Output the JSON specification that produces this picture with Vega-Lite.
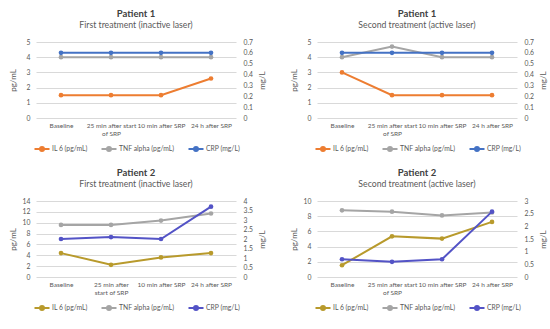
{
  "$schema": "https://vega.github.io/schema/vega-lite/v6.json",
  "background": "white",
  "padding": {"left": 9, "top": 8, "right": 4, "bottom": 4},
  "config": {
    "font": "Lato",
    "view": {"stroke": null},
    "axis": {"labelColor": "#595959", "titleColor": "#595959", "labelFontSize": 6.8, "titleFontSize": 8, "titleFontWeight": "normal", "ticks": false, "domain": false},
    "axisX": {"labelFontSize": 6.5},
    "title": {"color": "#404040", "fontSize": 9.5, "fontWeight": "bold", "subtitleFontSize": 8.7, "subtitleColor": "#595959", "subtitlePadding": 3, "offset": 9, "anchor": "middle"},
    "legend": {"orient": "bottom", "direction": "horizontal", "title": null, "labelFontSize": 6.8, "labelColor": "#595959", "columnPadding": 9, "symbolType": "M-1.5,0H1.5M-0.4,0A0.4,0.4 0 1,1 0.4,0A0.4,0.4 0 1,1 -0.4,0", "symbolSize": 100, "symbolStrokeWidth": 2, "offset": 6}
  },
  "data": {"values": [
    {"pt": "P1", "tr": "first", "time": "Baseline", "s": "IL 6 (pg/mL)", "v": 1.5},
    {"pt": "P1", "tr": "first", "time": "25 min after start of SRP", "s": "IL 6 (pg/mL)", "v": 1.5},
    {"pt": "P1", "tr": "first", "time": "10 min after SRP", "s": "IL 6 (pg/mL)", "v": 1.5},
    {"pt": "P1", "tr": "first", "time": "24 h after SRP", "s": "IL 6 (pg/mL)", "v": 2.6},
    {"pt": "P1", "tr": "first", "time": "Baseline", "s": "TNF alpha (pg/mL)", "v": 4},
    {"pt": "P1", "tr": "first", "time": "25 min after start of SRP", "s": "TNF alpha (pg/mL)", "v": 4},
    {"pt": "P1", "tr": "first", "time": "10 min after SRP", "s": "TNF alpha (pg/mL)", "v": 4},
    {"pt": "P1", "tr": "first", "time": "24 h after SRP", "s": "TNF alpha (pg/mL)", "v": 4},
    {"pt": "P1", "tr": "first", "time": "Baseline", "s": "CRP (mg/L)", "v": 0.6},
    {"pt": "P1", "tr": "first", "time": "25 min after start of SRP", "s": "CRP (mg/L)", "v": 0.6},
    {"pt": "P1", "tr": "first", "time": "10 min after SRP", "s": "CRP (mg/L)", "v": 0.6},
    {"pt": "P1", "tr": "first", "time": "24 h after SRP", "s": "CRP (mg/L)", "v": 0.6},
    {"pt": "P1", "tr": "second", "time": "Baseline", "s": "IL 6 (pg/mL)", "v": 3.0},
    {"pt": "P1", "tr": "second", "time": "25 min after start of SRP", "s": "IL 6 (pg/mL)", "v": 1.5},
    {"pt": "P1", "tr": "second", "time": "10 min after SRP", "s": "IL 6 (pg/mL)", "v": 1.5},
    {"pt": "P1", "tr": "second", "time": "24 h after SRP", "s": "IL 6 (pg/mL)", "v": 1.5},
    {"pt": "P1", "tr": "second", "time": "Baseline", "s": "TNF alpha (pg/mL)", "v": 4},
    {"pt": "P1", "tr": "second", "time": "25 min after start of SRP", "s": "TNF alpha (pg/mL)", "v": 4.7},
    {"pt": "P1", "tr": "second", "time": "10 min after SRP", "s": "TNF alpha (pg/mL)", "v": 4},
    {"pt": "P1", "tr": "second", "time": "24 h after SRP", "s": "TNF alpha (pg/mL)", "v": 4},
    {"pt": "P1", "tr": "second", "time": "Baseline", "s": "CRP (mg/L)", "v": 0.6},
    {"pt": "P1", "tr": "second", "time": "25 min after start of SRP", "s": "CRP (mg/L)", "v": 0.6},
    {"pt": "P1", "tr": "second", "time": "10 min after SRP", "s": "CRP (mg/L)", "v": 0.6},
    {"pt": "P1", "tr": "second", "time": "24 h after SRP", "s": "CRP (mg/L)", "v": 0.6},
    {"pt": "P2", "tr": "first", "time": "Baseline", "s": "IL 6 (pg/mL)", "v": 4.4},
    {"pt": "P2", "tr": "first", "time": "25 min after start of SRP", "s": "IL 6 (pg/mL)", "v": 2.25},
    {"pt": "P2", "tr": "first", "time": "10 min after SRP", "s": "IL 6 (pg/mL)", "v": 3.6},
    {"pt": "P2", "tr": "first", "time": "24 h after SRP", "s": "IL 6 (pg/mL)", "v": 4.4},
    {"pt": "P2", "tr": "first", "time": "Baseline", "s": "TNF alpha (pg/mL)", "v": 9.6},
    {"pt": "P2", "tr": "first", "time": "25 min after start of SRP", "s": "TNF alpha (pg/mL)", "v": 9.6},
    {"pt": "P2", "tr": "first", "time": "10 min after SRP", "s": "TNF alpha (pg/mL)", "v": 10.4},
    {"pt": "P2", "tr": "first", "time": "24 h after SRP", "s": "TNF alpha (pg/mL)", "v": 11.7},
    {"pt": "P2", "tr": "first", "time": "Baseline", "s": "CRP (mg/L)", "v": 2.0},
    {"pt": "P2", "tr": "first", "time": "25 min after start of SRP", "s": "CRP (mg/L)", "v": 2.1},
    {"pt": "P2", "tr": "first", "time": "10 min after SRP", "s": "CRP (mg/L)", "v": 2.0},
    {"pt": "P2", "tr": "first", "time": "24 h after SRP", "s": "CRP (mg/L)", "v": 3.7},
    {"pt": "P2", "tr": "second", "time": "Baseline", "s": "IL 6 (pg/mL)", "v": 1.55},
    {"pt": "P2", "tr": "second", "time": "25 min after start of SRP", "s": "IL 6 (pg/mL)", "v": 5.35},
    {"pt": "P2", "tr": "second", "time": "10 min after SRP", "s": "IL 6 (pg/mL)", "v": 5.05},
    {"pt": "P2", "tr": "second", "time": "24 h after SRP", "s": "IL 6 (pg/mL)", "v": 7.25},
    {"pt": "P2", "tr": "second", "time": "Baseline", "s": "TNF alpha (pg/mL)", "v": 8.77},
    {"pt": "P2", "tr": "second", "time": "25 min after start of SRP", "s": "TNF alpha (pg/mL)", "v": 8.6},
    {"pt": "P2", "tr": "second", "time": "10 min after SRP", "s": "TNF alpha (pg/mL)", "v": 8.1},
    {"pt": "P2", "tr": "second", "time": "24 h after SRP", "s": "TNF alpha (pg/mL)", "v": 8.5},
    {"pt": "P2", "tr": "second", "time": "Baseline", "s": "CRP (mg/L)", "v": 0.7},
    {"pt": "P2", "tr": "second", "time": "25 min after start of SRP", "s": "CRP (mg/L)", "v": 0.6},
    {"pt": "P2", "tr": "second", "time": "10 min after SRP", "s": "CRP (mg/L)", "v": 0.7},
    {"pt": "P2", "tr": "second", "time": "24 h after SRP", "s": "CRP (mg/L)", "v": 2.58}
  ]},
  "columns": 2,
  "align": "all",
  "spacing": {"column": 24, "row": 12},
  "resolve": {"scale": {"color": "independent", "x": "independent", "y": "independent"}, "legend": {"color": "independent"}},
  "concat": [
    {
      "title": {"text": "Patient 1", "subtitle": "First treatment (inactive laser)"},
      "width": 200, "height": 76,
      "transform": [{"filter": "datum.pt == 'P1' && datum.tr == 'first'"}],
      "encoding": {
        "x": {"field": "time", "type": "nominal", "sort": null, "scale": {"type": "point", "padding": 0.5}, "title": null,
          "axis": {"labelAngle": 0, "labelPadding": 4, "labelExpr": "datum.label == '25 min after start of SRP' ? ['25 min after start', 'of SRP'] : datum.label"}},
        "color": {"field": "s", "type": "nominal", "scale": {"domain": ["IL 6 (pg/mL)", "TNF alpha (pg/mL)", "CRP (mg/L)"], "range": ["#ED7D31", "#A5A5A5", "#4472C4"]}}
      },
      "layer": [
        {"transform": [{"filter": "datum.s != 'CRP (mg/L)'"}],
          "encoding": {"y": {"field": "v", "type": "quantitative", "scale": {"domain": [0, 5]}, "title": "pg/mL", "axis": {"tickCount": 5, "gridColor": "#D9D9D9", "labelPadding": 6, "titlePadding": 5, "minExtent": 14, "maxExtent": 14}}},
          "layer": [{"mark": {"type": "line", "strokeWidth": 2}}, {"mark": {"type": "point", "filled": true, "size": 22, "opacity": 1}}]},
        {"transform": [{"filter": "datum.s == 'CRP (mg/L)'"}],
          "encoding": {"y": {"field": "v", "type": "quantitative", "scale": {"domain": [0, 0.7]}, "title": "mg/L", "axis": {"orient": "right", "grid": false, "tickCount": 7, "format": ".1~f", "titleAngle": 270, "labelPadding": 7, "titlePadding": 10, "minExtent": 20, "maxExtent": 20}}},
          "layer": [{"mark": {"type": "line", "strokeWidth": 2}}, {"mark": {"type": "point", "filled": true, "size": 22, "opacity": 1}}]}
      ],
      "resolve": {"scale": {"y": "independent"}}
    },
    {
      "title": {"text": "Patient 1", "subtitle": "Second treatment (active laser)"},
      "width": 200, "height": 76,
      "transform": [{"filter": "datum.pt == 'P1' && datum.tr == 'second'"}],
      "encoding": {
        "x": {"field": "time", "type": "nominal", "sort": null, "scale": {"type": "point", "padding": 0.5}, "title": null,
          "axis": {"labelAngle": 0, "labelPadding": 4, "labelExpr": "datum.label == '25 min after start of SRP' ? ['25 min after start', 'of SRP'] : datum.label"}},
        "color": {"field": "s", "type": "nominal", "scale": {"domain": ["IL 6 (pg/mL)", "TNF alpha (pg/mL)", "CRP (mg/L)"], "range": ["#ED7D31", "#A5A5A5", "#4472C4"]}}
      },
      "layer": [
        {"transform": [{"filter": "datum.s != 'CRP (mg/L)'"}],
          "encoding": {"y": {"field": "v", "type": "quantitative", "scale": {"domain": [0, 5]}, "title": "pg/mL", "axis": {"tickCount": 5, "gridColor": "#D9D9D9", "labelPadding": 6, "titlePadding": 5, "minExtent": 14, "maxExtent": 14}}},
          "layer": [{"mark": {"type": "line", "strokeWidth": 2}}, {"mark": {"type": "point", "filled": true, "size": 22, "opacity": 1}}]},
        {"transform": [{"filter": "datum.s == 'CRP (mg/L)'"}],
          "encoding": {"y": {"field": "v", "type": "quantitative", "scale": {"domain": [0, 0.7]}, "title": "mg/L", "axis": {"orient": "right", "grid": false, "tickCount": 7, "format": ".1~f", "titleAngle": 270, "labelPadding": 7, "titlePadding": 10, "minExtent": 20, "maxExtent": 20}}},
          "layer": [{"mark": {"type": "line", "strokeWidth": 2}}, {"mark": {"type": "point", "filled": true, "size": 22, "opacity": 1}}]}
      ],
      "resolve": {"scale": {"y": "independent"}}
    },
    {
      "title": {"text": "Patient 2", "subtitle": "First treatment (inactive laser)"},
      "width": 200, "height": 76,
      "transform": [{"filter": "datum.pt == 'P2' && datum.tr == 'first'"}],
      "encoding": {
        "x": {"field": "time", "type": "nominal", "sort": null, "scale": {"type": "point", "padding": 0.5}, "title": null,
          "axis": {"labelAngle": 0, "labelPadding": 4, "labelExpr": "datum.label == '25 min after start of SRP' ? ['25 min after', 'start of SRP'] : datum.label"}},
        "color": {"field": "s", "type": "nominal", "scale": {"domain": ["IL 6 (pg/mL)", "TNF alpha (pg/mL)", "CRP (mg/L)"], "range": ["#B89A2C", "#A5A5A5", "#5353C6"]}}
      },
      "layer": [
        {"transform": [{"filter": "datum.s != 'CRP (mg/L)'"}],
          "encoding": {"y": {"field": "v", "type": "quantitative", "scale": {"domain": [0, 14]}, "title": "pg/mL", "axis": {"values": [0, 2, 4, 6, 8, 10, 12, 14], "gridColor": "#D9D9D9", "labelPadding": 6, "titlePadding": 5, "minExtent": 14, "maxExtent": 14}}},
          "layer": [{"mark": {"type": "line", "strokeWidth": 2}}, {"mark": {"type": "point", "filled": true, "size": 22, "opacity": 1}}]},
        {"transform": [{"filter": "datum.s == 'CRP (mg/L)'"}],
          "encoding": {"y": {"field": "v", "type": "quantitative", "scale": {"domain": [0, 4]}, "title": "mg/L", "axis": {"orient": "right", "grid": false, "values": [0, 0.5, 1, 1.5, 2, 2.5, 3, 3.5, 4], "format": "~g", "titleAngle": 270, "labelPadding": 7, "titlePadding": 10, "minExtent": 20, "maxExtent": 20}}},
          "layer": [{"mark": {"type": "line", "strokeWidth": 2}}, {"mark": {"type": "point", "filled": true, "size": 22, "opacity": 1}}]}
      ],
      "resolve": {"scale": {"y": "independent"}}
    },
    {
      "title": {"text": "Patient 2", "subtitle": "Second treatment (active laser)"},
      "width": 200, "height": 76,
      "transform": [{"filter": "datum.pt == 'P2' && datum.tr == 'second'"}],
      "encoding": {
        "x": {"field": "time", "type": "nominal", "sort": null, "scale": {"type": "point", "padding": 0.5}, "title": null,
          "axis": {"labelAngle": 0, "labelPadding": 4, "labelExpr": "datum.label == '25 min after start of SRP' ? ['25 min after start', 'of SRP'] : datum.label"}},
        "color": {"field": "s", "type": "nominal", "scale": {"domain": ["IL 6 (pg/mL)", "TNF alpha (pg/mL)", "CRP (mg/L)"], "range": ["#B89A2C", "#A5A5A5", "#5353C6"]}}
      },
      "layer": [
        {"transform": [{"filter": "datum.s != 'CRP (mg/L)'"}],
          "encoding": {"y": {"field": "v", "type": "quantitative", "scale": {"domain": [0, 10]}, "title": "pg/mL", "axis": {"values": [0, 2, 4, 6, 8, 10], "gridColor": "#D9D9D9", "labelPadding": 6, "titlePadding": 5, "minExtent": 14, "maxExtent": 14}}},
          "layer": [{"mark": {"type": "line", "strokeWidth": 2}}, {"mark": {"type": "point", "filled": true, "size": 22, "opacity": 1}}]},
        {"transform": [{"filter": "datum.s == 'CRP (mg/L)'"}],
          "encoding": {"y": {"field": "v", "type": "quantitative", "scale": {"domain": [0, 3]}, "title": "mg/L", "axis": {"orient": "right", "grid": false, "values": [0, 0.5, 1, 1.5, 2, 2.5, 3], "format": "~g", "titleAngle": 270, "labelPadding": 7, "titlePadding": 10, "minExtent": 20, "maxExtent": 20}}},
          "layer": [{"mark": {"type": "line", "strokeWidth": 2}}, {"mark": {"type": "point", "filled": true, "size": 22, "opacity": 1}}]}
      ],
      "resolve": {"scale": {"y": "independent"}}
    }
  ]
}
